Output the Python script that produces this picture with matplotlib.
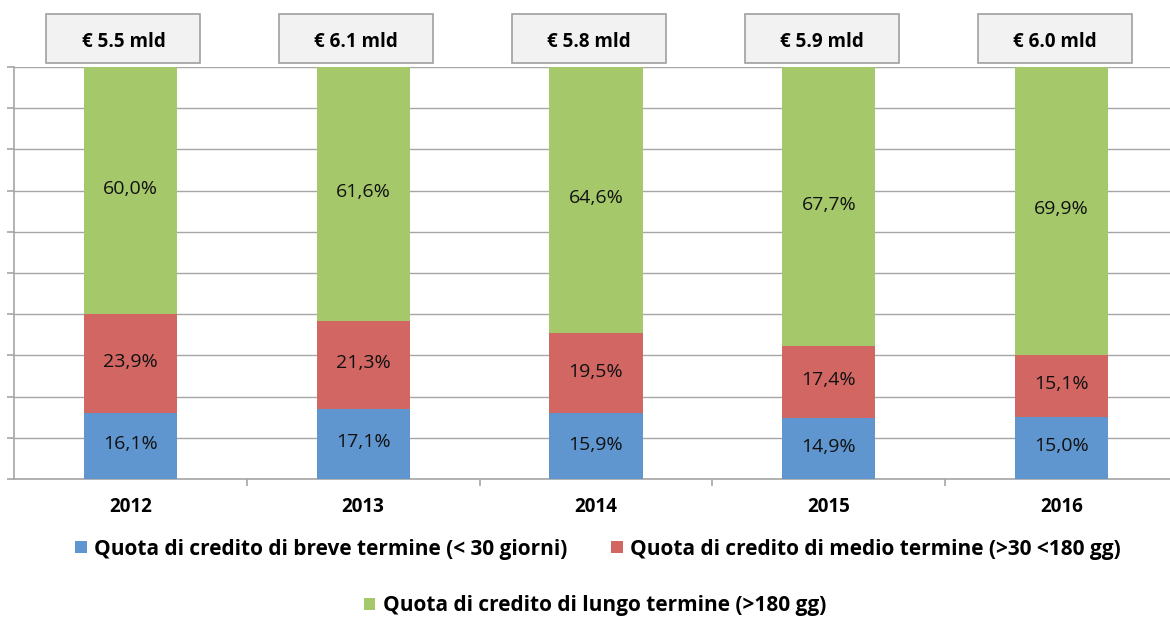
import numpy as np
import matplotlib.pyplot as plt
from matplotlib.patches import Rectangle
import matplotlib.transforms as mtransforms

plt.rcParams['font.family'] = ['Open Sans', 'DejaVu Sans']

anni = ['2012', '2013', '2014', '2015', '2016']
breve = [16.1, 17.1, 15.9, 14.9, 15.0]
medio = [23.9, 21.3, 19.5, 17.4, 15.1]
lungo = [60.0, 61.6, 64.6, 67.7, 69.9]
totali = ['€ 5.5 mld', '€ 6.1 mld', '€ 5.8 mld', '€ 5.9 mld', '€ 6.0 mld']
nomi = ['Quota di credito di breve termine (< 30 giorni)',
        'Quota di credito di medio termine (>30 <180 gg)',
        'Quota di credito di lungo termine (>180 gg)']
colori = ['#5f96d0', '#d16662', '#a5c96a']

fig = plt.figure(figsize=(11.7, 6.18), dpi=100)
ax = fig.add_axes([14/1170, 1-479/618, 1164/1170, 412/618])

x = np.arange(len(anni))
b = np.array(breve)
m = np.array(medio)
l = np.array(lungo)
w = 0.40
h1 = ax.bar(x, b, w, color=colori[0], zorder=3)
h2 = ax.bar(x, m, w, bottom=b, color=colori[1], zorder=3)
h3 = ax.bar(x, l, w, bottom=b+m, color=colori[2], zorder=3)

for i in range(len(anni)):
    for base, val in [(0, b[i]), (b[i], m[i]), (b[i]+m[i], l[i])]:
        ax.text(x[i], base + val/2 + 0.4, f'{val:.1f}%'.replace('.', ','),
                ha='center', va='center', fontsize=14, color='#111111', zorder=4)

ax.set_xlim(-0.5, len(anni)-0.5)
ax.set_ylim(0, 100)
ax.set_yticks(np.arange(0, 101, 10))
ax.set_yticklabels([])
ax.yaxis.grid(True, color='#a6a6a6', linewidth=1, zorder=0)
ax.set_xticks(x)
ax.set_xticklabels(anni, fontsize=13.5, fontweight='bold')
ax.set_xticks(np.arange(0.5, len(anni)-0.5, 1), minor=True)
ax.tick_params(axis='x', which='major', length=0, pad=13)
ax.tick_params(axis='x', which='minor', length=5, color='#a6a6a6', width=1.2)
ax.tick_params(axis='y', length=5, color='#a6a6a6', width=1.2)
for s in ['top', 'right']:
    ax.spines[s].set_visible(False)
for s in ['left', 'bottom']:
    ax.spines[s].set_color('#a6a6a6')
    ax.spines[s].set_linewidth(1.2)

# caselle con i totali sopra le barre
trans = mtransforms.blended_transform_factory(ax.transData, ax.transAxes)
for i, t in enumerate(totali):
    cx = x[i] - 0.03
    ax.add_patch(Rectangle((cx - 0.331, 1.0097), 0.662, 0.119, transform=trans,
                           facecolor='#f2f2f2', edgecolor='#a0a0a0', linewidth=1.2,
                           clip_on=False))
    ax.text(cx, 1.0607, t, transform=trans,
            ha='center', va='center', fontsize=13.5, fontweight='bold')

leg1 = fig.legend([h1, h2], nomi[:2], loc='center', bbox_to_anchor=(598/1170, 1-549/618),
                  ncol=2, frameon=False, handlelength=0.55, handleheight=0.55,
                  handletextpad=0.35, columnspacing=2.1,
                  prop={'size': 15, 'weight': 'bold'})
leg2 = fig.legend([h3], nomi[2:], loc='center', bbox_to_anchor=(595/1170, 1-606/618),
                  frameon=False, handlelength=0.55, handleheight=0.55,
                  handletextpad=0.35, prop={'size': 15, 'weight': 'bold'})

plt.savefig('out.png', dpi=100)
